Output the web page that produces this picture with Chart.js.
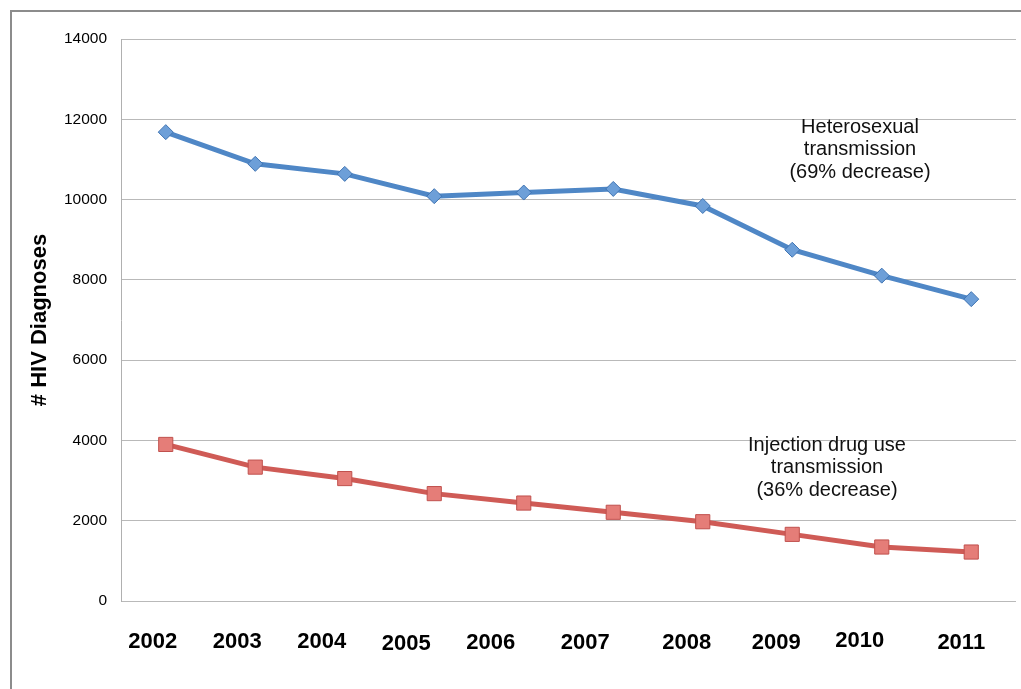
<!DOCTYPE html>
<html>
<head>
<meta charset="utf-8">
<title># HIV Diagnoses by transmission route, 2002–2011</title>
<script src="https://cdn.jsdelivr.net/npm/chart.js@4/dist/chart.umd.min.js"></script>
<style>
  html, body { margin: 0; padding: 0; background: #ffffff; }
  #wrap { width: 1021px; height: 689px; }
</style>
</head>
<body>
<div id="wrap"><canvas id="c" width="1021" height="689"></canvas></div>
<script>
// Years on the horizontal axis
const years = ['2002', '2003', '2004', '2005', '2006', '2007', '2008', '2009', '2010', '2011'];

// Annual HIV diagnoses by transmission route
const heterosexual = [11680, 10890, 10640, 10085, 10175, 10265, 9840, 8750, 8105, 7520];
const injectionDrugUse = [3900, 3335, 3050, 2675, 2440, 2210, 1975, 1660, 1345, 1220];

// Value axis ticks
const yTicks = [0, 2000, 4000, 6000, 8000, 10000, 12000, 14000];

// Year labels sit a little off their category centres (offset in px from centre / below the plot)
const yearDx = [-13, -18, -23, -28, -33, -28, -16, -16, -22, -10];
const yearDy = [47, 47.3, 46.7, 49, 48.3, 48.3, 48.3, 48, 46.3, 48.3];

const FONT = '"Liberation Sans", Arial, Helvetica, sans-serif';

// White page with the slide frame in the top-left corner
const framePlugin = {
  id: 'frame',
  beforeDraw(chart) {
    const ctx = chart.ctx;
    ctx.save();
    ctx.fillStyle = '#ffffff';
    ctx.fillRect(0, 0, chart.width, chart.height);
    ctx.strokeStyle = '#8c8c8c';
    ctx.lineWidth = 2;
    ctx.strokeRect(11, 11, chart.width + 40, chart.height + 40);
    ctx.restore();
  }
};

// Bold year labels under the plot
const yearLabels = {
  id: 'yearLabels',
  afterDraw(chart) {
    const ctx = chart.ctx;
    const xs = chart.scales.x;
    const bottom = chart.chartArea.bottom;
    ctx.save();
    ctx.font = 'bold 22px ' + FONT;
    ctx.fillStyle = '#000000';
    ctx.textAlign = 'center';
    ctx.textBaseline = 'alphabetic';
    years.forEach((y, i) => {
      ctx.fillText(y, xs.getPixelForValue(i) + yearDx[i], bottom + yearDy[i]);
    });
    ctx.restore();
  }
};

// Series captions inside the plot
const captions = {
  id: 'captions',
  afterDraw(chart) {
    const ctx = chart.ctx;
    const blocks = [
      { lines: ['Heterosexual', 'transmission', '(69% decrease)'], x: 860, y: 132.7 },
      { lines: ['Injection drug use', 'transmission', '(36% decrease)'], x: 827, y: 450.7 }
    ];
    ctx.save();
    ctx.font = '20px ' + FONT;
    ctx.fillStyle = '#111111';
    ctx.textAlign = 'center';
    ctx.textBaseline = 'alphabetic';
    blocks.forEach(b => {
      b.lines.forEach((t, i) => ctx.fillText(t, b.x, b.y + i * 22.7));
    });
    ctx.restore();
  }
};

new Chart(document.getElementById('c'), {
  type: 'line',
  data: {
    labels: years,
    datasets: [
      {
        label: 'Heterosexual transmission',
        data: heterosexual,
        borderColor: '#4f87c6',
        borderWidth: 5,
        tension: 0,
        pointStyle: 'rectRot',
        pointRadius: 7.5,
        pointBackgroundColor: '#6d9fd8',
        pointBorderColor: '#3f74b3',
        pointBorderWidth: 1
      },
      {
        label: 'Injection drug use transmission',
        data: injectionDrugUse,
        borderColor: '#cf5b56',
        borderWidth: 5,
        tension: 0,
        pointStyle: 'rect',
        pointRadius: 10,
        pointBackgroundColor: '#e57d78',
        pointBorderColor: '#c0504d',
        pointBorderWidth: 1
      }
    ]
  },
  options: {
    responsive: false,
    animation: false,
    layout: { autoPadding: false, padding: { left: 0, top: 39, right: 5, bottom: 0 } },
    plugins: {
      legend: { display: false },
      tooltip: { enabled: false }
    },
    scales: {
      x: {
        type: 'category',
        offset: true,
        grid: { display: false },
        border: { display: false },
        ticks: { display: false },
        afterFit(s) { s.height = 88; }
      },
      y: {
        min: 0,
        max: 14000,
        afterBuildTicks(s) { s.ticks = yTicks.map(v => ({ value: v })); },
        ticks: {
          color: '#000000',
          font: { family: FONT, size: 15.5 },
          padding: 14,
          callback: v => String(v)
        },
        grid: { color: '#b9b9b9', lineWidth: 1, drawTicks: false },
        border: { display: true, color: '#b0b0b0', width: 1 },
        title: {
          display: true,
          text: '# HIV Diagnoses',
          color: '#000000',
          font: { family: FONT, size: 22, weight: 'bold' },
          padding: { top: 27, bottom: 0 }
        },
        afterFit(s) { s.width = 121; }
      }
    }
  },
  plugins: [framePlugin, yearLabels, captions]
});
</script>
</body>
</html>
